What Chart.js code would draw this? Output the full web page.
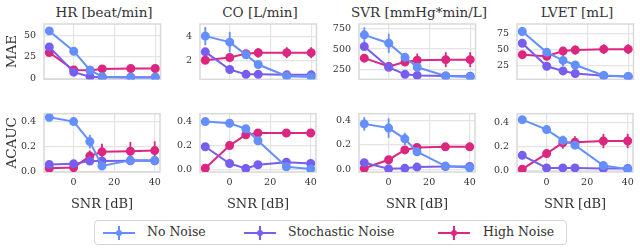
<!DOCTYPE html>
<html lang="en">
<head>
  <meta charset="UTF-8" />
  <title>SNR panels</title>
  <style>
    body {
      margin: 0;
      background: #fff;
      width: 640px;
      height: 248px;
      position: relative;
      overflow: hidden;
      font-family: "DejaVu Serif", serif;
    }
    .panel { position: absolute; }
    .ptitle {
      position: absolute;
      top: 3px;
      width: 220px;
      text-align: center;
      font-size: 13.5px;
      line-height: 18px;
      color: #333;
      white-space: nowrap;
    }
    #legend {
      position: absolute;
      left: 94px;
      top: 220px;
      width: 471px;
      height: 23px;
      border: 1.5px solid #d6d6d6;
      border-radius: 4px;
      color: #333;
      font-size: 12.5px;
    }
    .sample {
      position: absolute;
      top: 11px;
      width: 32px;
      height: 2px;
    }
    .sample::before {
      content: "";
      position: absolute;
      left: 13px;
      top: -2px;
      width: 6px;
      height: 6px;
      border-radius: 50%;
      background: inherit;
    }
    .sample::after {
      content: "";
      position: absolute;
      left: 15px;
      top: -6px;
      width: 2px;
      height: 14px;
      background: inherit;
    }
    .lbl { position: absolute; top: 3px; white-space: nowrap; }
  </style>
</head>
<body>
  <div id="legend"></div>

  <script src="https://cdn.jsdelivr.net/npm/chart.js"></script>
<script>
  // SNR levels (dB) on the x axis
  const snr = [-12, 0, 8, 14, 28, 40];
  const xTicks = [0, 20, 40];

  const seriesNames = ['No Noise', 'Stochastic Noise', 'High Noise'];
  const seriesColors = ['#648FFF', '#785EF0', '#DC267F'];

  const titles = ['HR [beat/min]', 'CO [L/min]', 'SVR [mmHg*min/L]', 'LVET [mL]'];

  // ---- MAE row ----
  const hrMaeNo = [55, 31.5, 9.5, 2, 1.2, 1.2];
  const hrMaeNoErr = [4, 3, 0, 0, 0, 0];
  const hrMaeSto = [36.5, 7.3, 1.9, 1.4, 1.4, 1.4];
  const hrMaeHigh = [30, 9.7, 9.4, 11, 11.5, 11.5];

  const coMaeNo = [4.0, 3.5, 2.45, 1.65, 0.68, 0.62];
  const coMaeNoErr = [0.75, 0.85, 0, 0, 0, 0];
  const coMaeSto = [2.7, 1.24, 0.84, 0.84, 0.8, 0.8];
  const coMaeHigh = [2.0, 2.23, 2.55, 2.62, 2.63, 2.63];
  const coMaeHighErr = [0, 0, 0.3, 0.4, 0.45, 0.45];

  const svrMaeNo = [671, 570, 400, 280, 175, 162];
  const svrMaeNoErr = [90, 115, 45, 0, 0, 0];
  const svrMaeSto = [530, 280, 195, 182, 175, 172];
  const svrMaeHigh = [390, 290, 343, 365, 372, 372];
  const svrMaeHighErr = [0, 0, 35, 80, 90, 90];

  const lvetMaeNo = [78, 46, 33.6, 26.5, 10.6, 9];
  const lvetMaeNoErr = [6, 3, 9, 0, 0, 0];
  const lvetMaeSto = [60, 24.6, 17.5, 13.5, 10, 9];
  const lvetMaeHigh = [42.5, 40, 48, 49.6, 50.9, 50.9];
  const lvetMaeHighErr = [0, 0, 6, 7, 7.5, 7.5];

  // ---- ACAUC row ----
  const hrAcNo = [0.434, 0.40, 0.24, 0.045, 0.09, 0.09];
  const hrAcNoErr = [0, 0, 0.055, 0.01, 0, 0];
  const hrAcSto = [0.057, 0.062, 0.084, 0.085, 0.086, 0.087];
  const hrAcHigh = [0.027, 0.032, 0.124, 0.158, 0.163, 0.168];
  const hrAcHighErr = [0, 0, 0.045, 0.065, 0.075, 0.075];

  const coAcNo = [0.40, 0.386, 0.34, 0.24, 0.023, 0.005];
  const coAcNoErr = [0.025, 0.035, 0.02, 0, 0, 0];
  const coAcSto = [0.19, 0.05, 0.008, 0.04, 0.06, 0.05];
  const coAcHigh = [0.01, 0.2, 0.29, 0.305, 0.305, 0.305];

  const svrAcNo = [0.372, 0.338, 0.25, 0.145, 0.028, 0.015];
  const svrAcNoErr = [0.055, 0.08, 0.05, 0.015, 0, 0];
  const svrAcSto = [0.055, 0.006, 0.01, 0.02, 0.025, 0.025];
  const svrAcHigh = [0.01, 0.08, 0.16, 0.18, 0.185, 0.185];

  const lvetAcNo = [0.423, 0.34, 0.25, 0.21, 0.04, 0.01];
  const lvetAcNoErr = [0.01, 0.035, 0.04, 0, 0, 0];
  const lvetAcSto = [0.125, 0.02, 0.02, 0.02, 0.015, 0.015];
  const lvetAcHigh = [0.01, 0.14, 0.23, 0.235, 0.245, 0.245];
  const lvetAcHighErr = [0, 0, 0.05, 0.05, 0.06, 0.06];

  // y ticks per panel
  const hrMaeTicks = [0, 25, 50];
  const coMaeTicks = [2, 4];
  const svrMaeTicks = [250, 500, 750];
  const lvetMaeTicks = [25, 50, 75];
  const acTicks = [0.0, 0.2, 0.4];

  const panels = [
    { row: 0, col: 0, series: [hrMaeNo, hrMaeSto, hrMaeHigh], errs: [hrMaeNoErr, null, null], ticks: hrMaeTicks, min: -1, max: 63, dec: 0 },
    { row: 0, col: 1, series: [coMaeNo, coMaeSto, coMaeHigh], errs: [coMaeNoErr, null, coMaeHighErr], ticks: coMaeTicks, min: 0.43, max: 5.0, dec: 0 },
    { row: 0, col: 2, series: [svrMaeNo, svrMaeSto, svrMaeHigh], errs: [svrMaeNoErr, null, svrMaeHighErr], ticks: svrMaeTicks, min: 135, max: 802, dec: 0 },
    { row: 0, col: 3, series: [lvetMaeNo, lvetMaeSto, lvetMaeHigh], errs: [lvetMaeNoErr, null, lvetMaeHighErr], ticks: lvetMaeTicks, min: 4.6, max: 89.6, dec: 0 },
    { row: 1, col: 0, series: [hrAcNo, hrAcSto, hrAcHigh], errs: [hrAcNoErr, null, hrAcHighErr], ticks: acTicks, min: -0.003, max: 0.463, dec: 1 },
    { row: 1, col: 1, series: [coAcNo, coAcSto, coAcHigh], errs: [coAcNoErr, null, null], ticks: acTicks, min: -0.021, max: 0.466, dec: 1 },
    { row: 1, col: 2, series: [svrAcNo, svrAcSto, svrAcHigh], errs: [svrAcNoErr, null, null], ticks: acTicks, min: -0.02, max: 0.455, dec: 1 },
    { row: 1, col: 3, series: [lvetAcNo, lvetAcSto, lvetAcHigh], errs: [lvetAcNoErr, null, lvetAcHighErr], ticks: acTicks, min: -0.014, max: 0.473, dec: 1 }
  ];

  const plotLeft = [44, 200, 359, 517];
  const plotW = 120;
  const yAxisW = 44;
  const textColor = '#333';
  const gridColor = '#e4e4e4';
  const serif = '"DejaVu Serif", serif';

  // vertical error bars, drawn under the markers
  const errorBars = {
    id: 'errorBars',
    beforeDatasetsDraw(chart) {
      const ctx = chart.ctx;
      const y = chart.scales.y;
      chart.data.datasets.forEach((ds, i) => {
        if (!ds.errors) return;
        const meta = chart.getDatasetMeta(i);
        ctx.save();
        ctx.strokeStyle = ds.borderColor;
        ctx.lineWidth = 1.8;
        ds.errors.forEach((e, j) => {
          if (!e) return;
          const pt = meta.data[j];
          const v = ds.data[j].y;
          ctx.beginPath();
          ctx.moveTo(pt.x, y.getPixelForValue(v - e));
          ctx.lineTo(pt.x, y.getPixelForValue(v + e));
          ctx.stroke();
        });
        ctx.restore();
      });
    }
  };

  // light frame round the plot area
  const frame = {
    id: 'frame',
    beforeDatasetsDraw(chart) {
      const a = chart.chartArea;
      const ctx = chart.ctx;
      ctx.save();
      ctx.strokeStyle = '#d9d9d9';
      ctx.lineWidth = 1.5;
      ctx.strokeRect(a.left, a.top, a.right - a.left, a.bottom - a.top);
      ctx.restore();
    }
  };

  // column titles above the top row
  titles.forEach((t, c) => {
    const d = document.createElement('div');
    d.className = 'ptitle';
    d.style.left = (plotLeft[c] + plotW / 2 - 110) + 'px';
    d.textContent = t;
    document.body.appendChild(d);
  });

  panels.forEach(p => {
    const top = p.row === 0 ? 0 : 100;
    const h = p.row === 0 ? 93 : 112;
    const w = yAxisW + plotW + 2;

    const div = document.createElement('div');
    div.className = 'panel';
    div.style.left = (plotLeft[p.col] - yAxisW) + 'px';
    div.style.top = top + 'px';
    const cv = document.createElement('canvas');
    cv.width = w;
    cv.height = h;
    div.appendChild(cv);
    document.body.appendChild(div);

    const datasets = p.series.map((vals, k) => ({
      label: seriesNames[k],
      data: vals.map((v, j) => ({ x: snr[j], y: v })),
      errors: p.errs[k],
      borderColor: seriesColors[k],
      backgroundColor: seriesColors[k],
      borderWidth: 2,
      pointRadius: 3.5,
      pointHoverRadius: 3.5,
      tension: 0
    }));

    const bottomRow = p.row === 1;

    new Chart(cv.getContext('2d'), {
      type: 'line',
      data: { datasets },
      options: {
        responsive: false,
        animation: false,
        devicePixelRatio: 1,
        layout: { padding: { top: bottomRow ? 3 : 24, right: 2, left: 0, bottom: 0 } },
        plugins: {
          legend: { display: false },
          tooltip: { enabled: false }
        },
        scales: {
          x: {
            type: 'linear',
            min: -14.6,
            max: 42.6,
            afterBuildTicks: s => { s.ticks = xTicks.map(v => ({ value: v })); },
            afterFit: s => { s.height = bottomRow ? 40 : 0; },
            grid: { color: gridColor, lineWidth: 1.2, drawTicks: false },
            border: { display: false },
            ticks: {
              display: bottomRow,
              color: textColor,
              padding: 5,
              maxRotation: 0,
              font: { family: serif, size: 9.5 }
            },
            title: {
              display: bottomRow,
              text: 'SNR [dB]',
              color: textColor,
              font: { family: serif, size: 13 },
              padding: { top: 2, bottom: 0 }
            }
          },
          y: {
            min: p.min,
            max: p.max,
            afterBuildTicks: s => { s.ticks = p.ticks.map(v => ({ value: v })); },
            afterFit: s => { s.width = yAxisW; },
            grid: { color: gridColor, lineWidth: 1.2, drawTicks: false },
            border: { display: false },
            ticks: {
              color: textColor,
              padding: 8,
              font: { family: serif, size: 9.5 },
              callback: v => v.toFixed(p.dec)
            },
            title: {
              display: p.col === 0,
              text: bottomRow ? 'ACAUC' : 'MAE',
              color: textColor,
              font: { family: serif, size: 13.5 },
              padding: { top: 4, bottom: 0 }
            }
          }
        }
      },
      plugins: [frame, errorBars]
    });
  });

  // shared legend under the panels
  const legend = document.getElementById('legend');
  const sampleX = [8, 149, 343];
  const labelX = [52, 193, 388];
  seriesNames.forEach((name, k) => {
    const s = document.createElement('span');
    s.className = 'sample';
    s.style.left = sampleX[k] + 'px';
    s.style.background = seriesColors[k];
    legend.appendChild(s);
    const t = document.createElement('span');
    t.className = 'lbl';
    t.style.left = labelX[k] + 'px';
    t.textContent = name;
    legend.appendChild(t);
  });
</script>
</body>
</html>
